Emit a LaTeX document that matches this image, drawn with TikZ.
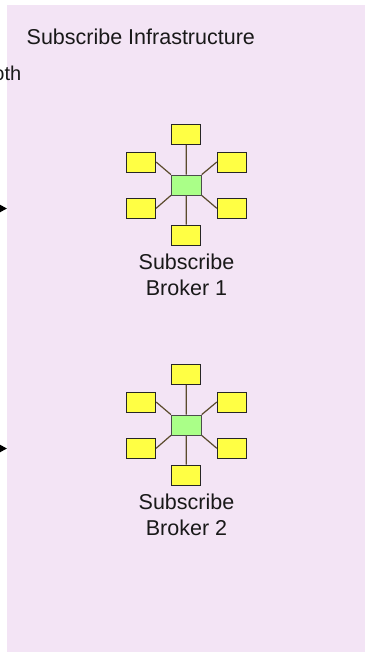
\documentclass[tikz,border=0pt]{standalone}
\usepackage{fontspec}
\setmainfont{Liberation Sans}
\usetikzlibrary{arrows.meta}
\definecolor{panelbg}{HTML}{F3E4F5}
\definecolor{hubfill}{HTML}{AAFF88}
\definecolor{leaffill}{HTML}{FFFF44}
\definecolor{linkcol}{HTML}{5A4A2C}
\tikzset{
  x=1pt, y=-1pt,
  hubbox/.style={draw=black!70, fill=hubfill, line width=0.8pt, minimum width=30pt, minimum height=20pt, inner sep=0pt},
  leafbox/.style={draw=black!85, fill=leaffill, line width=0.8pt, minimum width=29pt, minimum height=20pt, inner sep=0pt},
  link/.style={draw=linkcol, line width=1.2pt},
  lbl/.style={font=\fontsize{21.5}{26}\selectfont, align=center, text=black!90},
  inarrow/.style={draw=black, line width=2pt, -{Triangle[length=7pt,width=7pt]}}
}
\begin{document}
\begin{tikzpicture}
\useasboundingbox (0,0) rectangle (365,653);
\fill[panelbg] (7,5) rectangle (365,652);
\node[lbl, anchor=base west, inner sep=0pt] (title) at (26.5,44) {Subscribe Infrastructure};
\node[lbl, anchor=base east, inner sep=0pt, font=\fontsize{20}{24}\selectfont] (both) at (21.5,80) {both};
\coordinate (src1) at (-30,208.5);
\coordinate (dst1) at (7,208.5);
\coordinate (src2) at (-30,448.5);
\coordinate (dst2) at (7,448.5);
\draw[inarrow] (src1) -- (dst1);
\draw[inarrow] (src2) -- (dst2);
\foreach \b/\dy in {1/0, 2/240} {
  \begin{scope}[yshift=-\dy pt]
    \node[hubbox] (h\b) at (186.3,185) {};
    \node[leafbox] (t\b) at (186.2,134.7) {};
    \node[leafbox] (ul\b) at (141.2,162) {};
    \node[leafbox] (ur\b) at (231.7,162) {};
    \node[leafbox] (ll\b) at (141.2,208.3) {};
    \node[leafbox] (lr\b) at (231.7,208.3) {};
    \node[leafbox] (bt\b) at (186.2,235) {};
    \node[lbl, inner sep=0pt] (name\b) at (186.5,275) {Subscribe\\Broker \b};
  \end{scope}
  \draw[link] (t\b.south) -- (h\b.north);
  \draw[link] (h\b.south) -- (bt\b.north);
  \draw[link] (ul\b.east) -- (h\b.north west);
  \draw[link] (ll\b.east) -- (h\b.south west);
  \draw[link] (ur\b.west) -- (h\b.north east);
  \draw[link] (lr\b.west) -- (h\b.south east);
  \node[leafbox] at (t\b) {};
  \node[leafbox] at (bt\b) {};
  \node[leafbox] at (ul\b) {};
  \node[leafbox] at (ur\b) {};
  \node[leafbox] at (ll\b) {};
  \node[leafbox] at (lr\b) {};
  \node[hubbox] at (h\b) {};
}
\end{tikzpicture}
\end{document}
